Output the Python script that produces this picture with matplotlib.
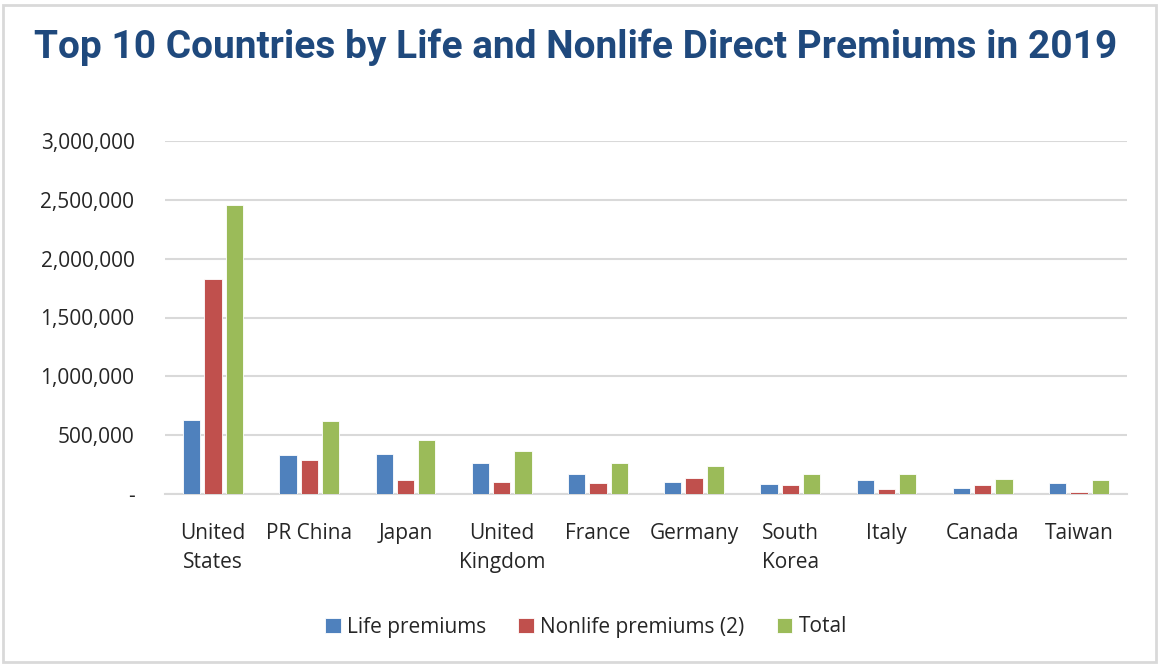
import numpy as np
import matplotlib.pyplot as plt
from matplotlib.patches import Rectangle
from matplotlib.ticker import FuncFormatter

# data
countries = ['United\nStates', 'PR China', 'Japan', 'United\nKingdom', 'France',
             'Germany', 'South\nKorea', 'Italy', 'Canada', 'Taiwan']
life = [630000, 329000, 341000, 264000, 168000, 100000, 89000, 120000, 49000, 95000]
nonlife = [1830000, 288000, 118000, 101000, 92000, 140000, 78000, 41000, 75000, 21000]
total = [2460000, 617000, 459000, 365000, 260000, 240000, 172000, 166000, 129000, 116000]
series_names = ['Life premiums', 'Nonlife premiums (2)', 'Total']
yticks = [0, 500000, 1000000, 1500000, 2000000, 2500000, 3000000]

colors = ['#4F81BD', '#C0504D', '#9BBB59']
plt.rcParams['font.family'] = ['Open Sans', 'DejaVu Sans']

W, H = 1159, 666
fig = plt.figure(figsize=(W / 100, H / 100), dpi=100)
fig.patch.set_facecolor('white')

# outer frame
fig.patches.append(Rectangle((3 / W, 4 / H), 1153 / W, 657 / H, transform=fig.transFigure,
                             fill=False, edgecolor='#d9d9d9', linewidth=2))

ax = fig.add_axes([165 / W, 1 - 494 / H, 962 / W, 353 / H])
x = np.arange(len(countries))
w = 0.18
step = 0.221
for i, (vals, name) in enumerate(zip([life, nonlife, total], series_names)):
    ax.bar(x + (i - 1) * step, vals, width=w, color=colors[i], label=name,
           edgecolor='white', linewidth=0.6, zorder=3)

ax.set_xlim(-0.5, len(countries) - 0.5)
ax.set_ylim(0, 3000000)
ax.set_yticks(yticks)
ax.yaxis.set_major_formatter(FuncFormatter(lambda v, p: '-' if v == 0 else f'{int(v):,}'))
ax.set_xticks(x)
ax.set_xticklabels(countries, fontsize=15, color='#262626', linespacing=1.5)
ax.tick_params(axis='y', labelsize=15, labelcolor='#262626', length=0, pad=22)
ax.tick_params(axis='x', length=0, pad=21)
ax.grid(axis='y', color='#d9d9d9', linewidth=1.5, zorder=0)
for s in ['top', 'right', 'left']:
    ax.spines[s].set_visible(False)
ax.spines['bottom'].set_color('#d9d9d9')
ax.spines['bottom'].set_linewidth(1.5)

fig.text(575.5 / W, 1 - 47 / H, 'Top 10 Countries by Life and Nonlife Direct Premiums in 2019',
         ha='center', va='center', fontsize=28, fontweight='bold', color='#1F497D',
         family=['Roboto', 'DejaVu Sans'])

fig.legend(loc='center', bbox_to_anchor=(586 / W, 1 - 627 / H), ncol=3, frameon=False,
           fontsize=15, handlelength=0.75, handleheight=0.75, handletextpad=0.3,
           columnspacing=1.55, labelcolor='#262626')

fig.savefig('out.png', dpi=100, facecolor='white')
